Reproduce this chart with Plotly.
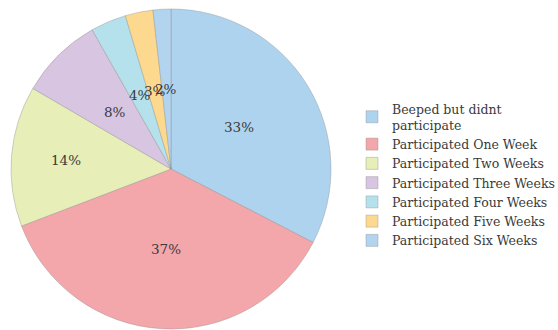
import math
import plotly.graph_objects as go

# Share of beeped students by number of weeks participated (%)
categories = [
    "Beeped but didnt<br>participate",
    "Participated One Week",
    "Participated Two Weeks",
    "Participated Three Weeks",
    "Participated Four Weeks",
    "Participated Five Weeks",
    "Participated Six Weeks",
]
shares = [32.6, 36.6, 14.2, 8.4, 3.6, 2.8, 1.8]
slice_colors = ["#aed3ee", "#f4a7aa", "#e7eeb8", "#d7c5e1", "#b5e1ec", "#fdd98f", "#b3d4ef"]
# radial position of each percentage label, as a fraction of the radius
label_radius = [0.5, 0.5, 0.66, 0.5, 0.5, 0.5, 0.5]

W, H = 558, 330
cx, cy, R = 171, 169, 160  # pie centre and radius in pixels

fig = go.Figure(
    go.Pie(
        labels=categories,
        values=shares,
        sort=False,
        direction="clockwise",
        rotation=0,
        marker=dict(colors=slice_colors, line=dict(color="rgba(140,140,140,0.55)", width=0.7)),
        textinfo="none",
        hoverinfo="label+percent",
        domain=dict(x=[(cx - R) / W, (cx + R) / W], y=[1 - (cy + R) / H, 1 - (cy - R) / H]),
    )
)

# percentage labels placed at the middle angle of each slice
total = sum(shares)
start = 0.0
for v, rf in zip(shares, label_radius):
    mid = (start + v / 2) / total * 2 * math.pi
    start += v
    px = cx + rf * R * math.sin(mid)
    py = cy - rf * R * math.cos(mid)
    fig.add_annotation(
        x=px / W, y=1 - py / H, xref="paper", yref="paper",
        xanchor="center", yanchor="middle",
        text=f"{round(v / total * 100)}%", showarrow=False,
        font=dict(family="DejaVu Serif", size=13.5, color="#3a3a3a"),
    )

fig.update_layout(
    width=W, height=H,
    margin=dict(l=0, r=0, t=0, b=0, autoexpand=False),
    paper_bgcolor="white",
    plot_bgcolor="white",
    showlegend=True,
    legend=dict(
        x=352 / W, y=1 - 94 / H, xanchor="left", yanchor="top",
        font=dict(family="DejaVu Serif", size=12.5, color="#3a3a3a"),
        itemwidth=30, traceorder="normal",
        bgcolor="rgba(0,0,0,0)",
    ),
)

fig.write_html("out.html")
